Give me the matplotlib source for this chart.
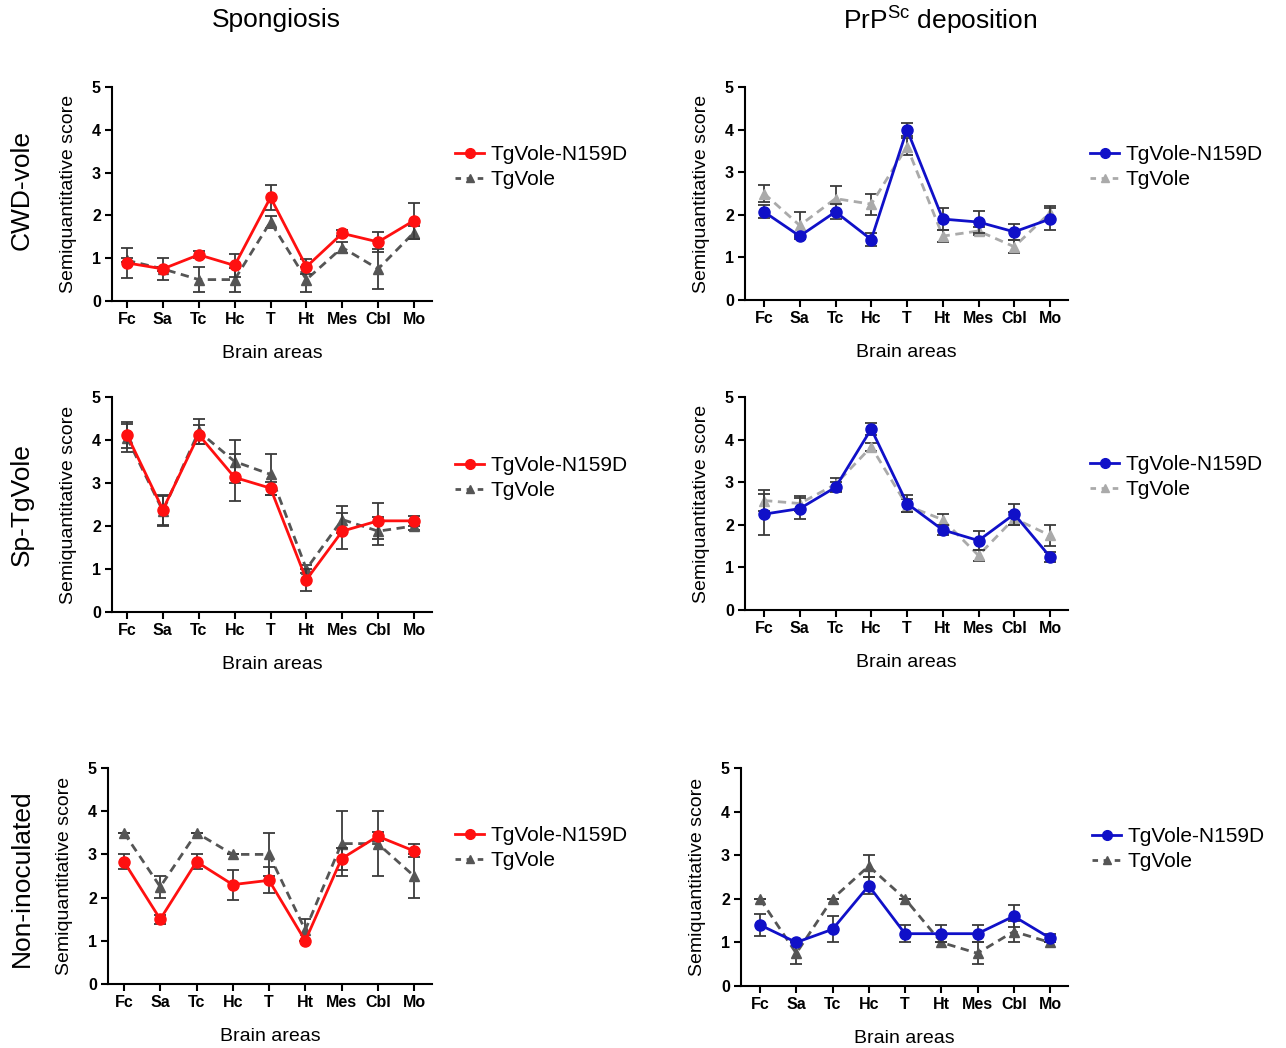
import matplotlib.pyplot as plt
from matplotlib.lines import Line2D

plt.rcParams['font.family'] = ['Liberation Sans', 'DejaVu Sans']
plt.rcParams['mathtext.default'] = 'regular'

areas = ['Fc', 'Sa', 'Tc', 'Hc', 'T', 'Ht', 'Mes', 'Cbl', 'Mo']
row_labels = ['CWD-vole', 'Sp-TgVole', 'Non-inoculated']
col_titles = ['Spongiosis', 'PrP$^{Sc}$ deposition']

# spongiosis, TgVole-N159D (mean, sem) per row
spong_n159d = [
    [0.89, 0.75, 1.08, 0.83, 2.42, 0.80, 1.58, 1.38, 1.88],
    [4.12, 2.38, 4.12, 3.13, 2.88, 0.75, 1.88, 2.12, 2.12],
    [2.83, 1.50, 2.83, 2.30, 2.40, 1.00, 2.90, 3.42, 3.08],
]
spong_n159d_err = [
    [0.36, 0.05, 0.08, 0.27, 0.30, 0.18, 0.07, 0.23, 0.42],
    [0.30, 0.35, 0.22, 0.55, 0.15, 0.25, 0.42, 0.42, 0.12],
    [0.17, 0.10, 0.17, 0.35, 0.30, 0.00, 0.25, 0.10, 0.15],
]
spong_tgvole = [
    [0.95, 0.75, 0.50, 0.50, 1.85, 0.50, 1.25, 0.75, 1.60],
    [4.05, 2.35, 4.20, 3.50, 3.20, 1.00, 2.15, 1.88, 2.00],
    [3.50, 2.25, 3.50, 3.00, 3.00, 1.25, 3.25, 3.25, 2.50],
]
spong_tgvole_err = [
    [0.05, 0.25, 0.29, 0.28, 0.14, 0.30, 0.12, 0.47, 0.15],
    [0.33, 0.35, 0.30, 0.50, 0.48, 0.10, 0.32, 0.33, 0.10],
    [0.00, 0.25, 0.00, 0.00, 0.50, 0.25, 0.75, 0.75, 0.50],
]

# PrPSc deposition
prp_n159d = [
    [2.07, 1.50, 2.07, 1.42, 4.00, 1.90, 1.83, 1.60, 1.90],
    [2.25, 2.38, 2.88, 4.25, 2.50, 1.88, 1.63, 2.25, 1.25],
    [1.40, 1.00, 1.30, 2.30, 1.20, 1.20, 1.20, 1.60, 1.10],
]
prp_n159d_err = [
    [0.15, 0.03, 0.18, 0.15, 0.15, 0.25, 0.25, 0.18, 0.25],
    [0.48, 0.25, 0.12, 0.15, 0.20, 0.12, 0.23, 0.25, 0.12],
    [0.25, 0.00, 0.30, 0.20, 0.20, 0.20, 0.20, 0.25, 0.10],
]
prp_tgvole = [
    [2.50, 1.75, 2.38, 2.25, 3.60, 1.50, 1.62, 1.25, 2.05],
    [2.57, 2.50, 2.95, 3.83, 2.45, 2.12, 1.28, 2.15, 1.75],
    [2.00, 0.75, 2.00, 2.75, 2.00, 1.00, 0.75, 1.25, 1.00],
]
prp_tgvole_err = [
    [0.20, 0.32, 0.30, 0.25, 0.20, 0.15, 0.10, 0.15, 0.15],
    [0.25, 0.18, 0.15, 0.10, 0.15, 0.13, 0.12, 0.15, 0.25],
    [0.00, 0.25, 0.00, 0.25, 0.00, 0.00, 0.25, 0.25, 0.00],
]

W, H = 1286, 1048
fig = plt.figure(figsize=(W / 100, H / 100), dpi=100)

# panel boxes in pixels: left, right, top, bottom, x of first category
boxes = [
    [(112, 432, 87, 301, 127), (745, 1068, 87, 300, 764)],
    [(112, 432, 397, 612, 127), (745, 1068, 397, 610, 764)],
    [(108, 432, 768, 984, 124), (741, 1068, 768, 986, 760)],
]
legend_xy = [[(455, 167), (1090, 167)], [(455, 478), (1090, 477)], [(455, 848), (1092, 849)]]

red, blue = '#ff1010', '#1010c8'
dark_gray, light_gray = '#555555', '#aaaaaa'
err_col = '#3a3a3a'
tgvole_cols = [[dark_gray, light_gray], [dark_gray, light_gray], [dark_gray, dark_gray]]

x = list(range(len(areas)))

for r in range(3):
    for c in range(2):
        left, right, top, bottom, x0 = boxes[r][c]
        ax = fig.add_axes([left / W, 1 - bottom / H, (right - left) / W, (bottom - top) / H])
        if c == 0:
            m, me, g, ge, col = spong_n159d[r], spong_n159d_err[r], spong_tgvole[r], spong_tgvole_err[r], red
        else:
            m, me, g, ge, col = prp_n159d[r], prp_n159d_err[r], prp_tgvole[r], prp_tgvole_err[r], blue
        gcol = tgvole_cols[r][c]

        ax.errorbar(x, g, yerr=ge, color=gcol, ecolor=err_col, elinewidth=1.3, capsize=4, capthick=1.3,
                    linestyle=(0, (3, 2)), lw=2, marker='^', ms=7, zorder=2)
        ax.errorbar(x, m, yerr=me, color=col, ecolor=err_col, elinewidth=1.3, capsize=4, capthick=1.3,
                    lw=2, marker='o', ms=8, zorder=3)

        # category spacing: Mo sits ~18 px before the right end
        px_per = (right - 18 - x0) / 8
        ax.set_xlim(-(x0 - left) / px_per, 8 + 18 / px_per)
        ax.set_ylim(0, 5)
        ax.set_xticks(x)
        ax.set_xticklabels(areas, fontsize=11.5, fontweight='bold')
        ax.set_yticks(range(6))
        ax.set_yticklabels([str(i) for i in range(6)], fontsize=11.5, fontweight='bold')
        ax.tick_params(direction='out', length=5, width=1.5, pad=3)
        for s in ['top', 'right']:
            ax.spines[s].set_visible(False)
        for s in ['left', 'bottom']:
            ax.spines[s].set_linewidth(1.5)
        ax.set_xlabel('Brain areas', fontsize=14, labelpad=13)
        ax.set_ylabel('Semiquantitative score', fontsize=14, labelpad=11)
        ax.patch.set_visible(False)

        handles = [
            Line2D([], [], color=col, lw=2, marker='o', ms=7),
            Line2D([], [], color=gcol, lw=2, linestyle=(0, (2, 2)), marker='^', ms=6),
        ]
        lx, ly = legend_xy[r][c]
        ax.legend(handles, ['TgVole-N159D', 'TgVole'], loc='center left',
                  bbox_to_anchor=(lx / W, 1 - ly / H), bbox_transform=fig.transFigure,
                  frameon=False, fontsize=15, handlelength=1.4, handletextpad=0.3,
                  borderpad=0, borderaxespad=0, labelspacing=0.28)

for r, ycen in enumerate([190, 505, 878]):
    fig.text(22 / W, 1 - ycen / H, row_labels[r], rotation=90, fontsize=19, ha='center', va='center')

fig.text(276 / W, 1 - 20 / H, col_titles[0], fontsize=19, ha='center', va='center')
fig.text(940 / W, 1 - 21 / H, col_titles[1], fontsize=19, ha='center', va='center')

fig.savefig('out.png', dpi=100)
